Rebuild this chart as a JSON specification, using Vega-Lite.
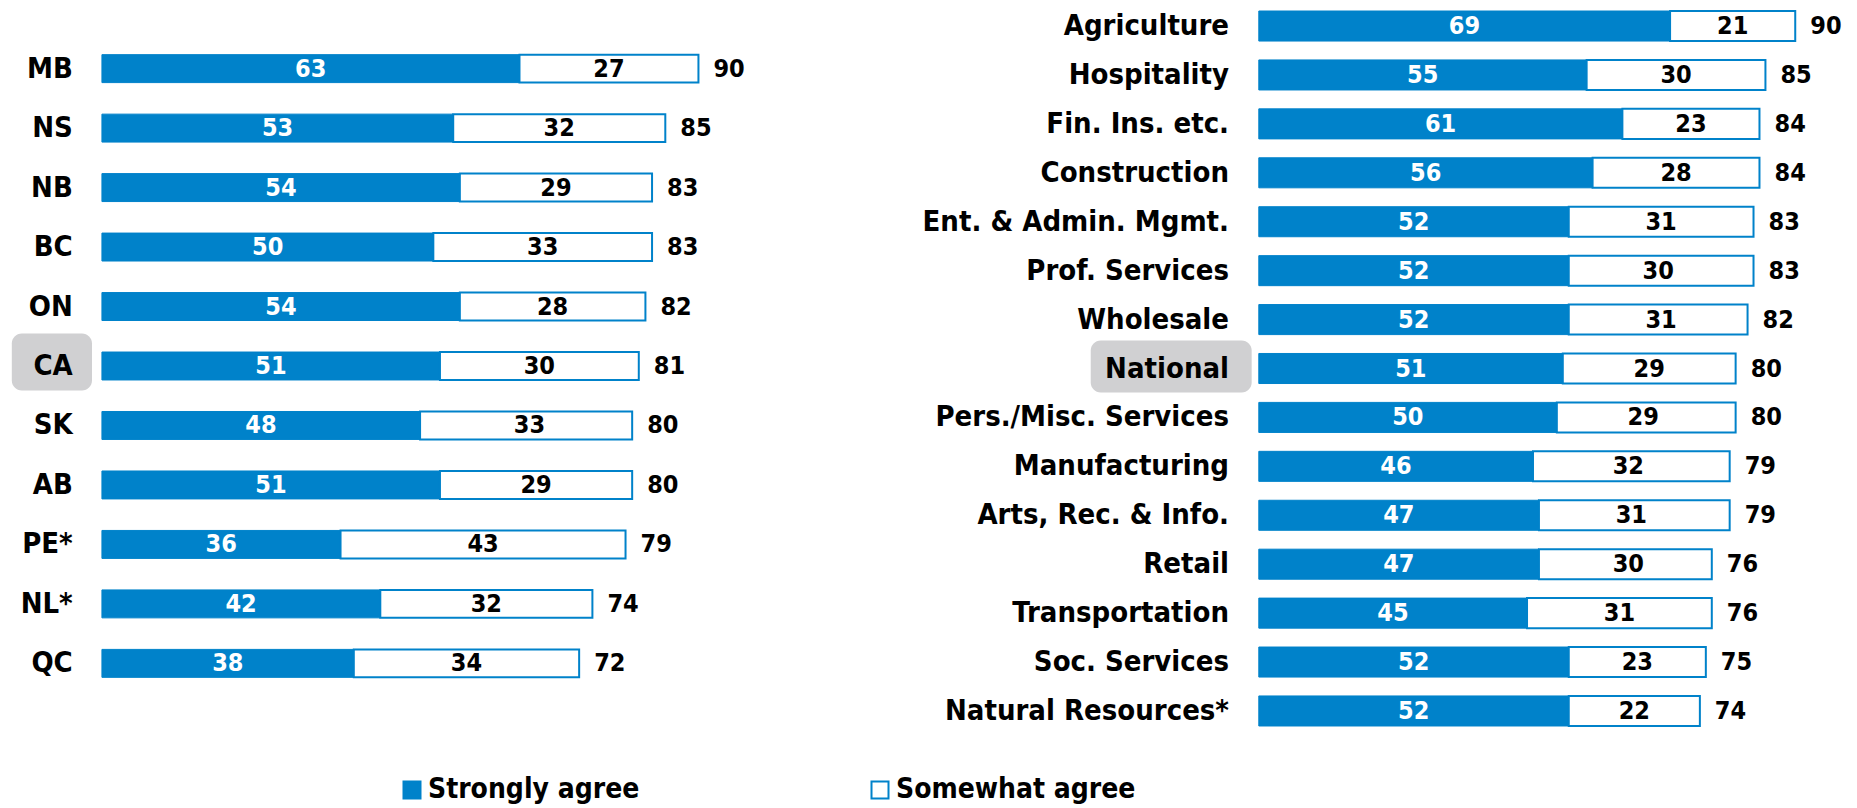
{
  "$schema": "https://vega.github.io/schema/vega-lite/v6.json",
  "padding": 0,
  "bounds": "flush",
  "background": "white",
  "spacing": 69,
  "config": {
    "view": {"stroke": null},
    "text": {"font": "DejaVu Sans Condensed", "fontWeight": "bold"},
    "legend": {
      "orient": "none",
      "legendX": 398,
      "legendY": 776,
      "direction": "horizontal",
      "symbolType": "square",
      "symbolSize": 289,
      "symbolStrokeColor": "#0082ca",
      "symbolStrokeWidth": 2,
      "labelFont": "DejaVu Sans Condensed",
      "labelFontWeight": "bold",
      "labelFontSize": 28,
      "labelColor": "black",
      "labelOffset": 2,
      "labelLimit": 0,
      "columnPadding": 226
    }
  },
  "resolve": {"scale": {"x": "independent", "y": "independent", "fill": "shared"}, "legend": {"fill": "shared"}},
  "datasets": {
    "prov": [
      {"cat": "MB", "strong": 63, "some": 27, "total": 90, "hl": 0},
      {"cat": "NS", "strong": 53, "some": 32, "total": 85, "hl": 0},
      {"cat": "NB", "strong": 54, "some": 29, "total": 83, "hl": 0},
      {"cat": "BC", "strong": 50, "some": 33, "total": 83, "hl": 0},
      {"cat": "ON", "strong": 54, "some": 28, "total": 82, "hl": 0},
      {"cat": "CA", "strong": 51, "some": 30, "total": 81, "hl": 1},
      {"cat": "SK", "strong": 48, "some": 33, "total": 80, "hl": 0},
      {"cat": "AB", "strong": 51, "some": 29, "total": 80, "hl": 0},
      {"cat": "PE*", "strong": 36, "some": 43, "total": 79, "hl": 0},
      {"cat": "NL*", "strong": 42, "some": 32, "total": 74, "hl": 0},
      {"cat": "QC", "strong": 38, "some": 34, "total": 72, "hl": 0}
    ],
    "sector": [
      {"cat": "Agriculture", "strong": 69, "some": 21, "total": 90, "hl": 0},
      {"cat": "Hospitality", "strong": 55, "some": 30, "total": 85, "hl": 0},
      {"cat": "Fin. Ins. etc.", "strong": 61, "some": 23, "total": 84, "hl": 0},
      {"cat": "Construction", "strong": 56, "some": 28, "total": 84, "hl": 0},
      {"cat": "Ent. & Admin. Mgmt.", "strong": 52, "some": 31, "total": 83, "hl": 0},
      {"cat": "Prof. Services", "strong": 52, "some": 30, "total": 83, "hl": 0},
      {"cat": "Wholesale", "strong": 52, "some": 31, "total": 82, "hl": 0},
      {"cat": "National", "strong": 51, "some": 29, "total": 80, "hl": 1},
      {"cat": "Pers./Misc. Services", "strong": 50, "some": 29, "total": 80, "hl": 0},
      {"cat": "Manufacturing", "strong": 46, "some": 32, "total": 79, "hl": 0},
      {"cat": "Arts, Rec. & Info.", "strong": 47, "some": 31, "total": 79, "hl": 0},
      {"cat": "Retail", "strong": 47, "some": 30, "total": 76, "hl": 0},
      {"cat": "Transportation", "strong": 45, "some": 31, "total": 76, "hl": 0},
      {"cat": "Soc. Services", "strong": 52, "some": 23, "total": 75, "hl": 0},
      {"cat": "Natural Resources*", "strong": 52, "some": 22, "total": 74, "hl": 0}
    ]
  },
  "hconcat": [
    {
      "width": 831,
      "height": 732,
      "data": {"name": "prov"},
      "encoding": {
        "y": {"field": "cat", "type": "nominal", "axis": null,
              "scale": {"domain": ["MB","NS","NB","BC","ON","CA","SK","AB","PE*","NL*","QC"], "paddingInner": 0.53, "paddingOuter": 0.919}}
      },
      "layer": [
        {
          "transform": [{"filter": "datum.hl == 1"}],
          "mark": {"type": "bar", "height": 57, "yOffset": -4, "cornerRadius": 10, "color": "#d0d0d2"},
          "encoding": {
            "x": {"datum": -13.6, "type": "quantitative", "axis": null, "scale": {"domain": [-15.38, 110], "nice": false, "zero": false}},
            "x2": {"datum": -1.5}
          }
        },
        {
          "mark": {"type": "bar", "stroke": "#0082ca", "strokeWidth": 1},
          "encoding": {
            "x": {"field": "strong", "type": "quantitative"},
            "fill": {"datum": "Strongly agree", "type": "nominal", "title": null,
                     "scale": {"domain": ["Strongly agree", "Somewhat agree"], "range": ["#0082ca", "#ffffff"]}}
          }
        },
        {
          "mark": {"type": "bar", "stroke": "#0082ca", "strokeWidth": 2},
          "encoding": {
            "x": {"field": "strong", "type": "quantitative"},
            "x2": {"field": "total"},
            "fill": {"datum": "Somewhat agree", "type": "nominal"}
          }
        },
        {
          "transform": [{"fold": ["strong", "some"], "as": ["type", "v"]}],
          "mark": {"type": "text", "fontSize": 25, "baseline": "middle", "align": "center"},
          "encoding": {
            "x": {"field": "v", "type": "quantitative", "stack": "zero", "bandPosition": 0.5},
            "order": {"field": "type", "sort": "descending"},
            "text": {"field": "v", "type": "quantitative"},
            "color": {"condition": {"test": "datum.type == 'strong'", "value": "white"}, "value": "black"}
          }
        },
        {
          "mark": {"type": "text", "fontSize": 25, "baseline": "middle", "align": "left", "dx": 15, "color": "black"},
          "encoding": {
            "x": {"field": "total", "type": "quantitative"},
            "text": {"field": "total", "type": "quantitative"}
          }
        },
        {
          "mark": {"type": "text", "fontSize": 29, "baseline": "middle", "align": "right", "color": "black"},
          "encoding": {
            "x": {"datum": -4.4, "type": "quantitative"},
            "text": {"field": "cat"}
          }
        }
      ]
    },
    {
      "width": 931,
      "height": 737,
      "data": {"name": "sector"},
      "encoding": {
        "y": {"field": "cat", "type": "nominal", "axis": null,
              "scale": {"domain": ["Agriculture","Hospitality","Fin. Ins. etc.","Construction","Ent. & Admin. Mgmt.","Prof. Services","Wholesale","National","Pers./Misc. Services","Manufacturing","Arts, Rec. & Info.","Retail","Transportation","Soc. Services","Natural Resources*"], "paddingInner": 0.386, "paddingOuter": 0.225}}
      },
      "layer": [
        {
          "transform": [{"filter": "datum.hl == 1"}],
          "mark": {"type": "bar", "height": 52, "yOffset": -2, "cornerRadius": 10, "color": "#d0d0d2"},
          "encoding": {
            "x": {"datum": -28.2, "type": "quantitative", "axis": null, "scale": {"domain": [-60.2, 96], "nice": false, "zero": false}},
            "x2": {"datum": -1.2}
          }
        },
        {
          "mark": {"type": "bar", "stroke": "#0082ca", "strokeWidth": 1},
          "encoding": {
            "x": {"field": "strong", "type": "quantitative"},
            "fill": {"datum": "Strongly agree", "type": "nominal"}
          }
        },
        {
          "mark": {"type": "bar", "stroke": "#0082ca", "strokeWidth": 2},
          "encoding": {
            "x": {"field": "strong", "type": "quantitative"},
            "x2": {"field": "total"},
            "fill": {"datum": "Somewhat agree", "type": "nominal"}
          }
        },
        {
          "transform": [{"fold": ["strong", "some"], "as": ["type", "v"]}],
          "mark": {"type": "text", "fontSize": 25, "baseline": "middle", "align": "center"},
          "encoding": {
            "x": {"field": "v", "type": "quantitative", "stack": "zero", "bandPosition": 0.5},
            "order": {"field": "type", "sort": "descending"},
            "text": {"field": "v", "type": "quantitative"},
            "color": {"condition": {"test": "datum.type == 'strong'", "value": "white"}, "value": "black"}
          }
        },
        {
          "mark": {"type": "text", "fontSize": 25, "baseline": "middle", "align": "left", "dx": 15, "color": "black"},
          "encoding": {
            "x": {"field": "total", "type": "quantitative"},
            "text": {"field": "total", "type": "quantitative"}
          }
        },
        {
          "mark": {"type": "text", "fontSize": 29, "baseline": "middle", "align": "right", "color": "black"},
          "encoding": {
            "x": {"datum": -5.0, "type": "quantitative"},
            "text": {"field": "cat"}
          }
        }
      ]
    }
  ]
}
